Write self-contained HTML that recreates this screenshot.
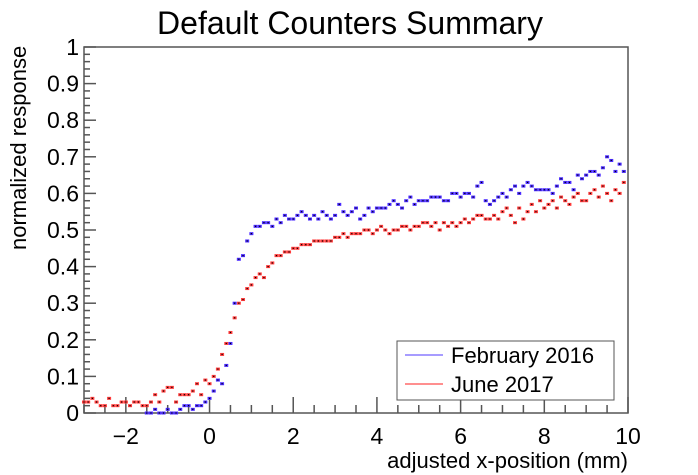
<!DOCTYPE html>
<html><head><meta charset="utf-8"><style>
body{margin:0;background:#fff;}
svg{display:block;font-family:"Liberation Sans",Arial,sans-serif;}
</style></head><body>
<svg id="chart" width="698" height="475" viewBox="0 0 698 475" xmlns="http://www.w3.org/2000/svg">
<rect width="698" height="475" fill="#fff"/>
<text x="350" y="34" font-size="32" text-anchor="middle">Default Counters Summary</text>
<g id="axes"></g>
<g id="marks"></g>
<text transform="translate(26,250) rotate(-90)" font-size="22" text-anchor="start">normalized response</text>
<text x="628" y="468" font-size="22" text-anchor="end">adjusted x-position (mm)</text>
<g>
<rect x="397" y="341" width="217" height="59" fill="#fff" stroke="#555" stroke-width="1"/>
<g>
<line x1="405" y1="355" x2="443" y2="355" stroke="#8a7bff" stroke-width="1.5"/>
<text x="451" y="363" font-size="22">February 2016</text></g>
<g>
<line x1="405" y1="384" x2="443" y2="384" stroke="#ff6a6a" stroke-width="1.5"/>
<text x="451" y="392" font-size="22">June 2017</text></g>
</g>
</svg>
<script>
const xTicks=[-2,0,2,4,6,8,10];
const yTicks=[0,0.1,0.2,0.3,0.4,0.5,0.6,0.7,0.8,0.9,1];
const yTickLabels=["0","0.1","0.2","0.3","0.4","0.5","0.6","0.7","0.8","0.9","1"];
const juneStart=-3.0;
const juneValues=[0.03,0.03,0.04,0.03,0.02,0.02,0.04,0.02,0.02,0.03,0.03,0.02,0.03,0.03,0.02,0.02,0.03,0.05,0.03,0.06,0.07,0.07,0.03,0.05,0.05,0.05,0.06,0.08,0.05,0.09,
0.08,0.10,0.12,0.16,0.19,0.22,0.26,0.30,0.31,0.34,
0.35,0.37,0.38,0.37,0.40,0.41,0.43,0.43,0.44,0.44,
0.45,0.45,0.46,0.46,0.46,0.47,0.47,0.47,0.47,0.47,
0.48,0.48,0.49,0.48,0.49,0.49,0.49,0.50,0.50,0.49,
0.50,0.51,0.50,0.49,0.50,0.50,0.51,0.51,0.50,0.51,
0.51,0.52,0.52,0.51,0.52,0.50,0.52,0.51,0.52,0.51,
0.52,0.53,0.52,0.53,0.54,0.54,0.53,0.53,0.54,0.53,
0.55,0.56,0.54,0.52,0.56,0.53,0.55,0.57,0.55,0.58,
0.56,0.57,0.58,0.56,0.59,0.58,0.57,0.59,0.60,0.58,
0.58,0.60,0.61,0.59,0.62,0.60,0.58,0.61,0.60,0.63];
const febStart=-1.5;
const febValues=[0.00,0.00,0.01,0.00,0.00,0.01,0.00,0.00,0.01,0.02,0.02,0.01,0.02,0.02,0.03,
0.04,0.06,0.09,0.08,0.13,0.19,0.30,0.42,0.43,0.47,
0.49,0.51,0.51,0.52,0.52,0.51,0.53,0.52,0.54,0.53,
0.53,0.54,0.55,0.54,0.53,0.54,0.53,0.55,0.54,0.53,
0.54,0.57,0.55,0.54,0.55,0.56,0.53,0.54,0.56,0.55,
0.56,0.56,0.56,0.57,0.58,0.57,0.56,0.58,0.59,0.57,
0.58,0.58,0.58,0.59,0.59,0.59,0.58,0.58,0.60,0.60,
0.59,0.60,0.60,0.59,0.62,0.63,0.58,0.57,0.58,0.59,
0.60,0.59,0.61,0.62,0.60,0.62,0.63,0.62,0.61,0.61,
0.61,0.61,0.60,0.62,0.64,0.63,0.63,0.61,0.65,0.64,
0.65,0.66,0.66,0.65,0.67,0.70,0.69,0.66,0.68,0.66];
const step=0.1;

const X0=84,X1=628,Y0=413,Y1=47,xmin=-3,xmax=10;
const sx=v=>X0+(v-xmin)/(xmax-xmin)*(X1-X0);
const sy=v=>Y0-v*(Y0-Y1);
const NS="http://www.w3.org/2000/svg";
function mk(tag,attrs,parent){const e=document.createElementNS(NS,tag);for(const k in attrs)e.setAttribute(k,attrs[k]);parent.appendChild(e);return e;}
const axes=document.getElementById('axes');
const frame=mk('rect',{x:X0,y:Y1,width:X1-X0,height:Y0-Y1,fill:'none',stroke:'#555','stroke-width':1.5},axes);


for(let i=0;i<=50;i++){const v=i*0.02;const y=sy(v);const major=i%5===0;
 const t=mk('line',{x1:X0,x2:X0+(major?12:6),y1:y,y2:y,stroke:'#555','stroke-width':1.5},axes);
 
 }
yTicks.forEach((v,i)=>{const t=mk('text',{x:X0-5,y:sy(v)+8,'font-size':23,'text-anchor':'end'},axes);t.textContent=yTickLabels[i];
 
 });
for(let i=-6;i<=20;i++){const v=i*0.5;if(v<xmin||v>xmax)continue;const x=sx(v);const major=i%4===0;
 const t=mk('line',{x1:x,x2:x,y1:Y0,y2:Y0-(major?16:8),stroke:'#555','stroke-width':1.5},axes);
 
 }
xTicks.forEach(v=>{const t=mk('text',{x:sx(v),y:Y0+31,'font-size':23,'text-anchor':'middle'},axes);t.textContent=(v<0?'\u2212'+(-v):String(v));
 
 });
const marks=document.getElementById('marks');
function series(start,vals,color,name){const g=mk('g',{},marks);
 
 
 vals.forEach((v,i)=>{const x=sx(start+i*step),y=sy(v);
  const p=mk('rect',{x:x-2,y:y-1.5,width:4,height:3,fill:color},g);
  
  
  mk('rect',{x:x-0.6,y:y-0.6,width:1.2,height:1.2,fill:'#000'},g);});}
series(juneStart,juneValues,'#ff3b3b','series-june-2017');
series(febStart,febValues,'#4a2bff','series-february-2016');
</script>
</body></html>
